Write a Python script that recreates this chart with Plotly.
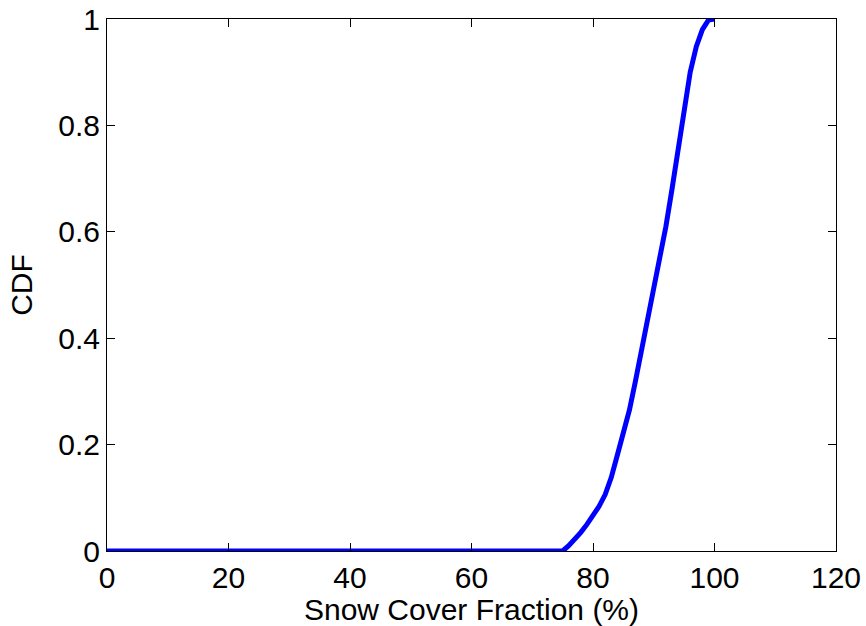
import plotly.graph_objects as go

# Empirical CDF of snow cover fraction
snow_cover_pct = [0, 75, 76, 77, 78, 79, 80, 81, 82, 83, 84, 85, 86, 87, 88,
                  89, 90, 91, 92, 93, 94, 95, 96, 97, 98, 99, 100]
cdf_values = [0, 0, 0.010, 0.022, 0.035, 0.050, 0.066, 0.084, 0.106, 0.138,
              0.180, 0.222, 0.265, 0.320, 0.378, 0.433, 0.490, 0.547, 0.610,
              0.680, 0.750, 0.825, 0.900, 0.948, 0.980, 0.998, 1.0]

x_ticks = [0, 20, 40, 60, 80, 100, 120]
y_ticks = [0, 0.2, 0.4, 0.6, 0.8, 1]
y_tick_labels = ["0", "0.2", "0.4", "0.6", "0.8", "1"]

font_family = "Liberation Sans, Arial, Helvetica, sans-serif"
font_size = 30

fig = go.Figure()
fig.add_trace(go.Scatter(
    x=snow_cover_pct,
    y=cdf_values,
    mode="lines",
    line=dict(color="#0000ff", width=5),
    showlegend=False,
    hoverinfo="skip",
))

axis_common = dict(
    showgrid=False,
    zeroline=False,
    showline=True,
    linecolor="black",
    linewidth=1,
    mirror="ticks",
    ticks="inside",
    ticklen=8,
    tickwidth=1,
    tickcolor="black",
    automargin=False,
    tickfont=dict(family=font_family, size=font_size, color="black"),
)

fig.update_layout(
    width=866,
    height=626,
    margin=dict(l=107, r=30, t=19, b=75),
    paper_bgcolor="white",
    plot_bgcolor="white",
    font=dict(family=font_family, size=font_size, color="black"),
    xaxis=dict(
        range=[0, 120],
        tickvals=x_ticks,
        title=dict(text="Snow Cover Fraction (%)",
                   font=dict(family=font_family, size=font_size, color="black"),
                   standoff=0),
        **axis_common,
    ),
    yaxis=dict(
        range=[0, 1],
        tickvals=y_ticks,
        ticktext=y_tick_labels,
        title=dict(text="CDF",
                   font=dict(family=font_family, size=font_size, color="black"),
                   standoff=16),
        **axis_common,
    ),
)

fig.write_html("out.html")
